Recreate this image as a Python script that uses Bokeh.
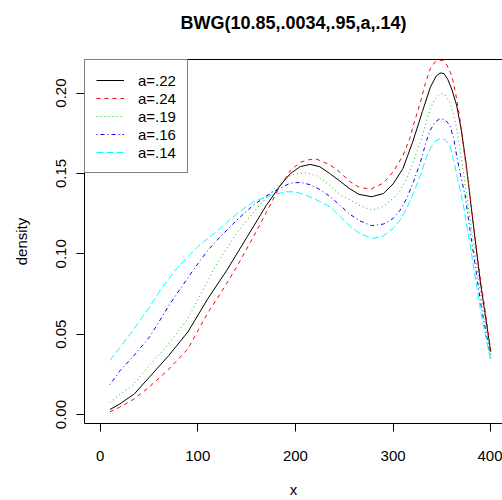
from bokeh.plotting import figure
from bokeh.models import Range1d, FixedTicker, PrintfTickFormatter, LinearAxis
from bokeh.embed import file_html
from bokeh.resources import INLINE

title_text = "BWG(10.85,.0034,.95,a,.14)"
x_ticks = [0, 100, 200, 300, 400]
y_ticks = [0.00, 0.05, 0.10, 0.15, 0.20]

labels = ["a=.22", "a=.24", "a=.19", "a=.16", "a=.14"]
colors = ["#000000", "#FF0000", "#00CD00", "#0000FF", "#00FFFF"]
dashes = ["solid", "4 4", "1 3", "1 3 4 3", "7 3"]

x_a22 = [10, 20, 35, 50, 70, 90, 110, 130, 150, 170, 185, 195, 205, 215, 225, 235, 245, 255, 265, 278, 290, 300,
         310, 320, 330, 338, 344, 348, 352, 356, 360, 365, 370, 375, 380, 389, 400]
y_a22 = [.0031, .0065, .0128, .023, .0365, .0515, .0718, .090, .110, .130, .143, .150, .1543, .1556, .1542, .150,
         .1455, .1407, .137, .1355, .1375, .1435, .153, .1695, .1885, .2035, .2105, .2125, .2122, .2085, .2025,
         .1925, .1765, .155, .129, .0838, .039]

x_a24 = [10, 20, 35, 50, 70, 90, 110, 125, 140, 160, 183, 195, 205, 215, 222, 235, 245, 256, 265, 277, 290, 300,
         310, 317, 322, 328, 333, 338, 343, 347, 351, 355, 360, 364, 368.6, 373, 378, 386, 400]
y_a24 = [.0017, .0045, .0098, .017, .028, .041, .063, .077, .092, .114, .1407, .152, .157, .1587, .1588, .1555,
         .151, .1448, .1415, .1402, .1440, .1510, .1610, .1717, .1825, .1944, .2060, .2151, .2195, .2205, .2203,
         .2175, .211, .200, .183, .162, .1405, .0993, .040]

x_a19 = [10, 20, 34, 51, 68, 89, 105, 116, 123, 140, 160, 179, 191, 200, 211, 222, 235, 246, 256, 266, 278, 290,
         300, 307, 314, 321, 328, 334, 338, 343, 348, 353, 358, 363, 367, 371, 375.4, 382, 389, 400]
y_a19 = [.0073, .0125, .0186, .031, .0424, .059, .077, .090, .097, .113, .128, .1407, .1479, .1497, .1504, .1485,
         .1427, .1365, .1335, .130, .1272, .1295, .1345, .139, .1469, .158, .1696, .1820, .1903, .1965, .1996,
         .1990, .1944, .184, .1717, .155, .1365, .1075, .078, .037]

x_a16 = [10, 20, 34, 51, 72, 95.5, 110, 123, 140, 157, 175, 194, 205, 215, 225, 235.5, 246, 256, 266, 278, 290,
         300, 307, 314, 321, 328, 334, 338, 343, 348, 353, 358, 362, 365, 369, 373.7, 380.5, 390, 400]
y_a16 = [.0186, .027, .0362, .0486, .0693, .090, .102, .1106, .121, .1303, .138, .1438, .1445, .1430, .1400,
         .1355, .130, .1245, .1205, .1175, .1185, .122, .127, .1345, .145, .1572, .170, .1769, .1820, .1841,
         .1835, .180, .172, .1613, .149, .1365, .1075, .068, .035]

x_a14 = [10, 20, 34, 51, 63, 78.5, 100, 123, 140, 157, 175, 191, 200, 208, 220, 235.5, 246, 256, 266, 279, 290,
         300, 307, 314, 321, 328, 334, 338, 343, 348, 353, 358, 362, 366, 372, 378.8, 390, 400]
y_a14 = [.0337, .0415, .0527, .0672, .0786, .091, .1045, .1158, .125, .1324, .1365, .1386, .1385, .1371, .134,
         .1293, .123, .117, .1125, .1096, .111, .1158, .121, .1283, .138, .1489, .160, .1655, .1700, .1717,
         .1712, .1676, .158, .147, .130, .1055, .063, .033]

xs = [x_a22, x_a24, x_a19, x_a16, x_a14]
ys = [y_a22, y_a24, y_a19, y_a16, y_a14]

FONT = "Liberation Sans"
Y_TOP = 0.2209

p = figure(width=502, height=500, output_backend="svg", toolbar_location=None,
           x_range=Range1d(-16, 412), y_range=Range1d(-0.00558, Y_TOP),
           min_border_left=84, min_border_right=0, min_border_top=59, min_border_bottom=76)

p.title.visible = False

p.xgrid.visible = False
p.ygrid.visible = False
p.outline_line_color = None
p.background_fill_color = "white"
p.border_fill_color = "white"

bottom_ax = p.below[0]
left_ax = p.left[0]

for ax in (bottom_ax, left_ax):
    ax.axis_line_color = "black"
    ax.axis_line_width = 1
    ax.major_tick_line_color = "black"
    ax.major_tick_in = 0
    ax.major_tick_out = 8
    ax.minor_tick_line_color = None
    ax.major_label_text_font = FONT
    ax.major_label_text_font_size = "15px"
    ax.major_label_text_color = "black"
    ax.axis_label_text_font = FONT
    ax.axis_label_text_font_size = "15px"
    ax.axis_label_text_font_style = "normal"
    ax.axis_label_text_color = "black"

bottom_ax.ticker = FixedTicker(ticks=x_ticks)
left_ax.ticker = FixedTicker(ticks=y_ticks)
left_ax.formatter = PrintfTickFormatter(format="%.2f")
left_ax.major_label_orientation = "vertical"
bottom_ax.axis_label = "x"
left_ax.axis_label = "density"
bottom_ax.major_label_standoff = 19
left_ax.major_label_standoff = 10
bottom_ax.axis_label_standoff = 17
left_ax.axis_label_standoff = 24

# top axis: draws the top edge of the box and carries the main title as its label
top_ax = LinearAxis(ticker=FixedTicker(ticks=[]), axis_label=title_text,
                    axis_label_text_font=FONT, axis_label_text_font_size="18px",
                    axis_label_text_font_style="bold", axis_label_text_color="black",
                    axis_label_standoff=27, major_label_standoff=0,
                    major_tick_out=0, major_tick_in=0, minor_tick_out=0, minor_tick_in=0,
                    major_tick_line_color=None, minor_tick_line_color=None,
                    major_label_text_font_size="0px",
                    axis_line_color="black", axis_line_width=1)
p.add_layout(top_ax, "above")

for x, y, lab, c, d in zip(xs, ys, labels, colors, dashes):
    p.line(x, y, line_color=c, line_dash=d, line_width=1, legend_label=lab)

lg = p.legend[0]
lg.location = "top_left"
lg.margin = 0
lg.padding = 11
lg.spacing = 0
lg.label_height = 18
lg.glyph_height = 18
lg.glyph_width = 28
lg.label_standoff = 14
lg.label_text_font = FONT
lg.label_text_font_size = "15px"
lg.label_text_color = "black"
lg.border_line_color = "black"
lg.border_line_width = 1
lg.background_fill_color = "white"
lg.background_fill_alpha = 1.0

open("out.html", "w").write(file_html(p, INLINE))
